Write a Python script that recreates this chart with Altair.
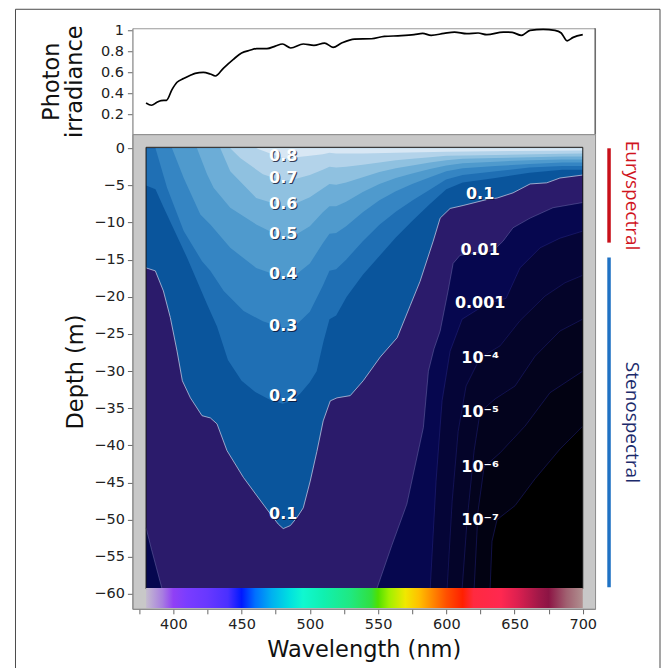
import altair as alt
import pandas as pd

# ---------------- data ----------------
# Top panel: relative photon irradiance at the surface
SURF_WL = [380, 384, 388, 391, 395, 399, 402.7, 407.5, 412.5, 416, 422, 427, 430.8, 436.8, 444,
           450, 456, 461, 468.6, 474.7, 480, 486, 495.2, 503, 510.8, 517, 523.3, 532.7, 545.2,
           554.6, 567, 576.4, 582.7, 588.9, 598.3, 606, 615, 623.3, 629.7, 641.8, 648.3, 655,
           661.4, 671, 679.6, 684.2, 688.5, 693, 700]
SURF_IRR = [0.308, 0.286, 0.314, 0.33, 0.333, 0.435, 0.505, 0.54, 0.571, 0.59, 0.60, 0.584, 0.565,
            0.641, 0.724, 0.784, 0.81, 0.826, 0.826, 0.85, 0.87, 0.832, 0.87, 0.857, 0.879, 0.838,
            0.879, 0.917, 0.92, 0.943, 0.949, 0.959, 0.971, 0.952, 0.971, 0.984, 0.968, 0.975,
            0.959, 0.984, 0.981, 0.952, 1.0, 1.01, 1.0, 0.975, 0.90, 0.933, 0.959]

BOTTOM = -59.3   # lower edge of the contoured field (m)

# Contour lines: wavelength (nm) and depth (m) of each iso-irradiance level
C08_WL = [460.7, 473, 480.3, 490, 500, 509.5, 514.4, 519.3, 538.8, 563, 600, 650, 700]
C08_D = [0, -0.84, -1.3, -1.2, -1.0, -0.8, -0.6, -0.7, -0.7, -0.6, -0.45, -0.35, -0.3]

C07_WL = [441.7, 449, 465.6, 480.3, 490, 500, 509.5, 514.4, 519.3, 526.6, 538.8, 551, 563, 575,
          588, 600, 636, 685, 700]
C07_D = [0, -1.3, -3.5, -4.4, -4.1, -3.6, -2.9, -2.5, -2.6, -2.5, -2.2, -1.9, -1.6, -1.4,
         -1.2, -1.0, -0.9, -0.75, -0.7]

C06_WL = [434.4, 441.7, 460.7, 480.3, 490, 500, 509.5, 514.4, 519.3, 526.6, 538.8, 551, 563, 575,
          588, 600, 612, 636, 661, 685, 700]
C06_D = [0, -3.1, -6.7, -7.8, -7.4, -6.6, -5.4, -4.8, -4.9, -4.6, -3.9, -3.2, -2.7, -2.3,
         -1.9, -1.6, -1.4, -1.3, -1.2, -1.1, -1.1]

C05_WL = [417.3, 424.7, 429.5, 441.7, 460.7, 480.3, 490, 500, 509.5, 514.4, 519.3, 526.6, 538.8,
          551, 563, 575, 588, 600, 612, 636, 661, 685, 700]
C05_D = [0, -3.5, -5.3, -8.0, -10.25, -12.05, -11.6, -10.5, -8.6, -7.8, -7.8, -7.2, -5.9,
         -4.8, -4.0, -3.4, -2.8, -2.3, -2.0, -1.8, -1.6, -1.5, -1.5]

C04_WL = [399, 407.6, 419.8, 427.1, 441.7, 460.7, 480.3, 490, 500, 509.5, 514.4, 519.3, 526.6,
          538.8, 551, 563, 575, 588, 600, 612, 636, 661, 685, 700]
C04_D = [0, -4.0, -8.9, -10.25, -13.4, -16.1, -17.4, -17.0, -15.5, -12.8, -11.5, -11.4, -10.5,
         -8.6, -7.0, -5.8, -4.8, -3.9, -3.1, -2.7, -2.4, -2.1, -1.9, -1.9]

C03_WL = [386.9, 395.4, 407.6, 421, 427.1, 436.9, 451.5, 465.6, 480.3, 490, 500, 509.5, 514.4,
          519.3, 526.6, 538.8, 551, 563.2, 575.4, 587.6, 599.8, 612, 636.4, 660.8, 685.2, 700]
C03_D = [0, -5.3, -11.15, -15.2, -16.5, -19.2, -21.9, -23.3, -24.2, -23.8, -22.0, -18.5, -16.5,
         -16.3, -15.0, -12.5, -10.3, -8.5, -7.0, -5.6, -4.2, -3.6, -3.1, -2.6, -2.4, -2.4]

C02_WL = [380, 386.9, 393, 410, 424.7, 432, 440, 450, 460, 470, 480, 487, 493, 500, 505, 510,
          514.4, 519.3, 527, 539, 551, 563, 575, 588, 600, 612, 636, 661, 685, 700]
C02_D = [-5.0, -5.5, -8.0, -14.7, -21.0, -24.0, -28.5, -31.3, -32.8, -33.8, -34.4, -34.0, -33.0,
         -31.5, -30.0, -26.0, -23.0, -22.5, -20.0, -17.0, -14.5, -12.0, -9.8, -7.5, -5.5, -4.6,
         -4.0, -3.3, -2.9, -2.9]

C01_WL = [380, 386.8, 392.7, 397.8, 402.7, 406.6, 412.5, 421, 427.1, 432, 439.3, 451.3, 461.3,
          471, 476.9, 480.5, 485.7, 490.6, 495.2, 500.3, 505.2, 509.8, 515, 519.9, 529.6, 539.1,
          551.6, 564, 573.5, 580.8, 590.4, 595.5, 602.8, 612.3, 629.7, 637.2, 648.9, 661.4,
          673.6, 683.3, 700]
C01_D = [-16.1, -16.5, -19.2, -22.8, -27.3, -31.3, -33.6, -36.0, -36.3, -37.1, -40.7, -44.3,
         -46.8, -49.2, -50.6, -51.2, -50.8, -49.7, -48.4, -44.8, -40.8, -36.7, -34.0, -33.6,
         -33.3, -31.3, -28.1, -25.5, -21.2, -17.9, -12.5, -9.4, -8.1, -7.7, -6.9, -6.7, -6.0,
         -4.8, -4.65, -4.0, -3.6]

C001_WL = [380, 384, 391.7, 549.1, 560, 571.1, 583.2, 586.9, 591, 595.5, 601.3, 605, 610.1,
           634.3, 641.6, 648.9, 661.4, 678.2, 700]
C001_D = [-51.1, -54.0, BOTTOM, BOTTOM, -53.5, -47.9, -37.6, -30.0, -27.0, -24.6, -19.2, -15.5,
          -14.4, -13.8, -12.5, -10.7, -9.4, -8.0, -7.3]

C0001_WL = [380, 588.2, 592.5, 596.9, 602.8, 611.6, 629.1, 643.8, 654, 668.7, 683.3, 700]
C0001_D = [BOTTOM, BOTTOM, -44.8, -34.0, -27.3, -23.0, -21.0, -20.2, -16.1, -13.4, -12.1, -11.15]

C1E4_WL = [380, 600.6, 604.3, 608.7, 614.5, 624.8, 639.4, 654, 672.3, 687, 700]
C1E4_D = [BOTTOM, BOTTOM, -47.5, -38.1, -32.0, -28.2, -26.6, -23.2, -19.9, -18.1, -17.1]

C1E5_WL = [380, 611.6, 615.2, 620.4, 624.8, 635.7, 650.4, 665, 683.3, 700]
C1E5_D = [BOTTOM, BOTTOM, -50.2, -40.7, -35.5, -33.75, -32.0, -28.0, -24.6, -23.0]

C1E6_WL = [380, 620.4, 623.3, 627.7, 639.4, 657.7, 676, 700]
C1E6_D = [BOTTOM, BOTTOM, -48.8, -42.9, -41.0, -37.4, -32.9, -30.0]

C1E7_WL = [380, 632.1, 633.5, 637.2, 650.4, 665, 683.3, 700]
C1E7_D = [BOTTOM, BOTTOM, -52.9, -50.0, -48.1, -44.5, -40.5, -37.4]

# band colours (region just above each contour)
BASE_COLOR = "#000000"
LEVELS = [
    (C1E7_WL, C1E7_D, "#020212"),
    (C1E6_WL, C1E6_D, "#03031d"),
    (C1E5_WL, C1E5_D, "#040429"),
    (C1E4_WL, C1E4_D, "#050537"),
    (C0001_WL, C0001_D, "#06074f"),
    (C001_WL, C001_D, "#2b1b6b"),
    (C01_WL, C01_D, "#0a559c"),
    (C02_WL, C02_D, "#1f6fb4"),
    (C03_WL, C03_D, "#3585c3"),
    (C04_WL, C04_D, "#4f9acd"),
    (C05_WL, C05_D, "#6cadd7"),
    (C06_WL, C06_D, "#8fc1e0"),
    (C07_WL, C07_D, "#b3d3ea"),
    (C08_WL, C08_D, "#d8e7f4"),
]

# contour labels
LABEL_TEXT = ["0.8", "0.7", "0.6", "0.5", "0.4", "0.3", "0.2", "0.1",
              "0.1", "0.01", "0.001", "10⁻⁴", "10⁻⁵", "10⁻⁶", "10⁻⁷"]
LABEL_WL = [480.5] * 8 + [624.8] * 7
LABEL_DEPTH = [-1.06, -3.98, -7.45, -11.55, -16.9, -23.9, -33.35, -49.2,
               -6.17, -13.7, -20.8, -28.2, -35.5, -42.9, -50.0]

# spectrum colour bar
BAR_WL = [380, 700]
BAR_DEPTH = [-59.2, -61.9]
SPEC_WL = [380, 392, 400, 410, 425, 440, 450, 460, 472, 485, 495, 510, 530, 545, 550, 558, 570,
           580, 590, 600, 612, 620, 640, 652, 668, 675, 688, 700]
SPEC_COL = ["#c4bccf", "#a87ee0", "#9040f5", "#7a3cff", "#6838ff", "#4a30ff", "#0018ff",
            "#0070ff", "#00b0f0", "#00e0e0", "#10f8d0", "#10f0b0", "#20e880", "#30e040",
            "#50e000", "#a0f000", "#f0e800", "#ffc000", "#ff8800", "#ff5000", "#ff2000",
            "#ff2a40", "#ff2850", "#dd2050", "#a01848", "#8c1444", "#a06070", "#b09090"]

# depth ranges of the two groups on the right
EURY_RANGE = [0.0, -12.7]
STENO_RANGE = [-14.7, -59.1]

# ---------------- chart ----------------
FONT = "DejaVu Sans"
X_SCALE = alt.Scale(domain=[370, 709], nice=False, zero=False)
Y_SCALE = alt.Scale(domain=[-62, 1.9], nice=False, zero=False)

x_axis = alt.Axis(values=list(range(375, 701, 25)),
                  labelExpr="datum.value % 50 === 0 ? datum.label : ''",
                  title="Wavelength (nm)", tickSize=5, labelPadding=4, titlePadding=7,
                  domainColor="#8a8a8a", tickColor="#666666", grid=False)
y_axis = alt.Axis(values=list(range(0, -61, -5)), title="Depth (m)", tickSize=5,
                  labelPadding=3, titlePadding=6, domainColor="#8a8a8a",
                  tickColor="#666666", grid=False)

X_ENC = alt.X("wl:Q", scale=X_SCALE, axis=x_axis)
Y_ENC = alt.Y("depth:Q", scale=Y_SCALE, axis=y_axis)

layers = []
base_df = pd.DataFrame({"wl": [BAR_WL[0]], "wl2": [BAR_WL[1]], "depth": [0], "depth2": [BOTTOM]})
layers.append(alt.Chart(base_df).mark_rect(color=BASE_COLOR).encode(
    x=X_ENC, x2="wl2:Q", y=Y_ENC, y2="depth2:Q"))

for wls, ds, col in LEVELS:
    df = pd.DataFrame({"wl": wls, "depth": ds, "top": [0] * len(wls)})
    layers.append(alt.Chart(df).mark_area(color=col, interpolate="linear").encode(
        x=X_ENC, y=Y_ENC, y2="top:Q"))

# contour lines
for wls, ds, col, w in [(C1E7_WL, C1E7_D, "#1c1c6e", 0.7), (C1E6_WL, C1E6_D, "#1c1c6e", 0.7),
                        (C1E5_WL, C1E5_D, "#1c1c6e", 0.7), (C1E4_WL, C1E4_D, "#1c1c6e", 0.7),
                        (C0001_WL, C0001_D, "#22227a", 0.7), (C001_WL, C001_D, "#6a6aa8", 0.6),
                        (C01_WL, C01_D, "#c2cbe2", 0.9)]:
    df = pd.DataFrame({"wl": wls, "depth": ds})
    layers.append(alt.Chart(df).mark_line(color=col, strokeWidth=w, opacity=0.85).encode(
        x=X_ENC, y=Y_ENC))

frame_df = pd.DataFrame({"wl": [BAR_WL[0]], "wl2": [BAR_WL[1]], "depth": [0.13], "depth2": [BOTTOM]})
layers.append(alt.Chart(frame_df).mark_rect(filled=False, stroke="#1a1a1a", strokeWidth=1).encode(
    x=X_ENC, x2="wl2:Q", y=Y_ENC, y2="depth2:Q"))

bar_df = pd.DataFrame({"wl": [BAR_WL[0]], "wl2": [BAR_WL[1]],
                       "depth": [BAR_DEPTH[0]], "depth2": [BAR_DEPTH[1]]})
grad = alt.Gradient(gradient="linear", x1=0, x2=1, y1=0, y2=0,
                    stops=[alt.GradientStop(offset=(w - 380) / 320.0, color=c)
                           for w, c in zip(SPEC_WL, SPEC_COL)])
layers.append(alt.Chart(bar_df).mark_rect(color=grad).encode(
    x=X_ENC, x2="wl2:Q", y=Y_ENC, y2="depth2:Q"))

lab_df = pd.DataFrame({"wl": LABEL_WL, "depth": LABEL_DEPTH, "label": LABEL_TEXT})
layers.append(alt.Chart(lab_df).mark_text(font=FONT, fontSize=16, fontWeight="bold",
                                          color="#0a0a25", opacity=0.75, dx=1, dy=1).encode(
    x=X_ENC, y=Y_ENC, text="label:N"))
layers.append(alt.Chart(lab_df).mark_text(font=FONT, fontSize=16, fontWeight="bold",
                                          color="white").encode(
    x=X_ENC, y=Y_ENC, text="label:N"))

# side annotations
side_df = pd.DataFrame({"depth": [EURY_RANGE[0], STENO_RANGE[0]],
                        "depth2": [EURY_RANGE[1], STENO_RANGE[1]],
                        "mid": [(EURY_RANGE[0] + EURY_RANGE[1]) / 2, (STENO_RANGE[0] + STENO_RANGE[1]) / 2],
                        "name": ["Euryspectral", "Stenospectral"],
                        "bar": ["#c8101a", "#1f72c4"],
                        "txt": ["#d0141e", "#1b2a6b"]})
layers.append(alt.Chart(side_df).mark_rule(strokeWidth=3.5).encode(
    x=alt.value(477), y=Y_ENC, y2="depth2:Q",
    color=alt.Color("bar:N", scale=None)))
layers.append(alt.Chart(side_df).mark_text(font="Open Sans", fontSize=19, angle=90,
                                           align="center", baseline="middle").encode(
    x=alt.value(500), y=alt.Y("mid:Q", scale=Y_SCALE, axis=y_axis),
    text="name:N", color=alt.Color("txt:N", scale=None)))

main = alt.layer(*layers).properties(
    width=463, height=475,
    view=alt.ViewBackground(fill="#c8c8c8", stroke="#8c8c8c"))

# ---- top panel ----
surf_df = pd.DataFrame({"wl": SURF_WL, "irr": SURF_IRR})
top_y_axis = alt.Axis(values=[0.2, 0.4, 0.6, 0.8, 1], format="~g", title=["Photon", "irradiance"],
                      tickSize=5, labelPadding=4, titlePadding=14, titleLineHeight=23,
                      domainColor="#9a9a9a", tickColor="#666666", grid=False)
top_line = alt.Chart(surf_df).mark_line(color="black", strokeWidth=1.7, interpolate="monotone").encode(
    x=alt.X("wl:Q", scale=X_SCALE, axis=None),
    y=alt.Y("irr:Q", scale=alt.Scale(domain=[0.01, 1.02], nice=False, zero=False), axis=top_y_axis))
one = pd.DataFrame({"k": [0]})
# outer figure frame (left, top, right edges; runs off the bottom of the page)
border = alt.Chart(one).mark_rect(filled=False, stroke="#4a4a4a", strokeWidth=1).encode(
    x=alt.value(-117), x2=alt.value(528), y=alt.value(-19), y2=alt.value(700))
right_edge = alt.Chart(one).mark_rule(color="#444444", strokeWidth=1).encode(
    x=alt.value(463), y=alt.value(0), y2=alt.value(106))
top = alt.layer(top_line, border, right_edge).properties(
    width=463, height=106, view=alt.ViewBackground(fill="white", stroke="#9a9a9a"))

chart = alt.vconcat(top, main, spacing=0, bounds="flush").properties(
    padding={"left": 6.5, "top": 0, "right": 0, "bottom": 0}
).configure_axis(
    labelFont=FONT, labelFontSize=14.5, labelColor="#222222",
    titleFont=FONT, titleFontSize=22.5, titleFontWeight="normal", titleColor="#111111"
)

chart.save("out.html", embed_options={"renderer": "svg", "actions": False})
